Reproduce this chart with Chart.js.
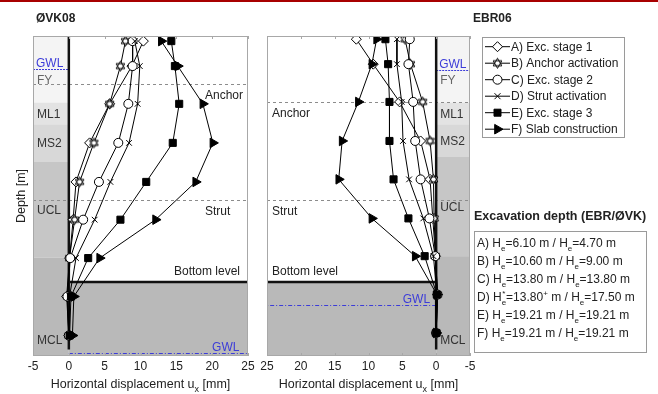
<!DOCTYPE html>
<html>
<head>
<meta charset="utf-8">
<script src="https://cdn.jsdelivr.net/npm/chart.js@4.4.0/dist/chart.umd.min.js"></script>
<style>
  body { margin: 0; background: #fff; }
  #wrap { position: relative; width: 658px; height: 394px; }
  #wrap canvas { position: absolute; left: 0; top: 0; }
</style>
</head>
<body>
<div id="wrap">
  <canvas id="vk" width="658" height="394"></canvas>
  <canvas id="ebr" width="658" height="394"></canvas>
</div>
<script>
// --- data ---
const stages = ['A) Exc. stage 1', 'B) Anchor activation', 'C) Exc. stage 2',
                'D) Strut activation', 'E) Exc. stage 3', 'F) Slab construction'];
const xTicks = [-5, 0, 5, 10, 15, 20, 25];

// ØVK08 (depth in m, displacement in mm)
const depthVK = [0.4, 2.35, 5.3, 8.35, 11.4, 14.35, 17.35, 20.35, 23.4];
const vkA = [10.4, 8.8, 5.7, 2.9, 1.0, 0.6, 0.1, -0.3, 0.0];
const vkB = [7.9, 7.2, 5.7, 3.5, 1.5, 0.8, 0.1, -0.2, 0.0];
const vkC = [8.9, 8.9, 8.3, 6.9, 4.2, 2.0, 0.2, -0.2, 0.0];
const vkD = [9.2, 9.9, 9.6, 8.4, 5.8, 3.6, 1.0, 0.1, 0.0];
const vkE = [14.3, 14.8, 15.4, 14.5, 10.8, 7.2, 2.7, 0.3, 0.1];
const vkF = [12.9, 15.2, 18.7, 20.1, 17.7, 12.1, 4.3, 0.7, 0.5];

// EBR06
const depthEBR = [0.25, 2.2, 5.15, 8.2, 11.2, 14.25, 17.2, 20.2, 23.2];
const ebrA = [11.8, 9.3, 5.4, 2.3, 0.9, 0.5, 0.1, -0.2, 0.0];
const ebrB = [4.6, 3.8, 2.0, 0.9, 0.4, 0.3, 0.1, -0.2, 0.0];
const ebrC = [3.9, 4.1, 3.4, 3.1, 2.3, 1.0, 0.15, -0.2, 0.0];
const ebrD = [5.8, 5.8, 5.1, 4.9, 4.0, 1.9, 0.4, -0.1, 0.0];
const ebrE = [7.5, 7.1, 6.9, 6.9, 6.3, 4.1, 1.7, -0.1, 0.0];
const ebrF = [8.8, 9.5, 11.5, 13.9, 14.4, 9.5, 3.1, -0.1, 0.0];

// soil layers (top depth of each layer, m)
const layerNames = ['FY', 'ML1', 'MS2', 'UCL', 'MCL'];
const layerTopVK = [0, 5.2, 6.9, 9.8, 17.3];
const layerTopEBR = [0, 5.2, 6.9, 9.45, 17.2];
const maxDepth = 25;

const anchorVK = 3.75, strutVK = 12.85, gwlVK = [2.6, 24.75];
const anchorEBR = 5.15, strutEBR = 12.8, gwlEBR = [2.65, 21.0];
const bottomDepth = 19.21;

const excLines = [
  [['A) H'], ['e', 'sub'], ['=6.10 m / H'], ['e', 'sub'], ['=4.70 m']],
  [['B) H'], ['e', 'sub'], ['=10.60 m / H'], ['e', 'sub'], ['=9.00 m']],
  [['C) H'], ['e', 'sub'], ['=13.80 m / H'], ['e', 'sub'], ['=13.80 m']],
  [['D) H'], ['e', 'both'], ['=13.80'], ['+', 'sup'], [' m / H'], ['e', 'sub'], ['=17.50 m']],
  [['E) H'], ['e', 'sub'], ['=19.21 m / H'], ['e', 'sub'], ['=19.21 m']],
  [['F) H'], ['e', 'sub'], ['=19.21 m / H'], ['e', 'sub'], ['=19.21 m']]
];

// --- styles ---
const FONT = "'Liberation Sans', Arial, Helvetica, sans-serif";
Chart.defaults.font.family = FONT;
Chart.defaults.font.size = 12;
Chart.defaults.color = '#222';
const layerFill = ['#f4f4f4', '#e3e3e3', '#d8d8d8', '#c6c6c6', '#b9b9b9'];
const gwlBlue = '#3c3cd8';

function hexagram(r) {
  const c = document.createElement('canvas');
  const s = Math.ceil(r * 2 + 3);
  c.width = c.height = s;
  const g = c.getContext('2d');
  const cx = s / 2, cy = s / 2;
  g.fillStyle = '#fff';
  g.strokeStyle = '#000';
  g.lineWidth = 1;
  const tri = a0 => {
    g.beginPath();
    for (let i = 0; i < 3; i++) {
      const a = a0 + i * 2 * Math.PI / 3;
      g.lineTo(cx + r * Math.cos(a), cy + r * Math.sin(a));
    }
    g.closePath();
  };
  [-Math.PI / 2, Math.PI / 2].forEach(a0 => { tri(a0); g.fill(); });
  [-Math.PI / 2, Math.PI / 2].forEach(a0 => { tri(a0); g.stroke(); });
  return c;
}
const hexImg = hexagram(5);

const marks = [
  { pointStyle: 'rectRot', pointRadius: 5, pointBackgroundColor: '#fff' },
  { pointStyle: hexImg, pointRadius: 5, pointBackgroundColor: '#fff' },
  { pointStyle: 'circle', pointRadius: 4.5, pointBackgroundColor: '#fff' },
  { pointStyle: 'crossRot', pointRadius: 4, pointBackgroundColor: '#000' },
  { pointStyle: 'rect', pointRadius: 5, pointBackgroundColor: '#000' },
  { pointStyle: 'triangle', pointRadius: 5.5, pointRotation: 90, pointBackgroundColor: '#000' }
];

function makeSets(depth, series) {
  return series.map((xs, i) => Object.assign({
    label: stages[i],
    data: xs.map((v, k) => ({ x: v, y: depth[k] })),
    order: series.length - 1 - i,   // later stages drawn on top
    showLine: true,
    borderColor: '#000',
    borderWidth: 1,
    pointBorderColor: '#000',
    pointBorderWidth: 1
  }, marks[i]));
}

function richText(ctx, parts, x, y, size) {
  // text with sub/superscripts, left aligned at x, baseline y
  const big = size + 'px ' + FONT, small = Math.round(size * 0.7) + 'px ' + FONT;
  ctx.textAlign = 'left';
  ctx.textBaseline = 'alphabetic';
  parts.forEach(([t, mode]) => {
    if (!mode) {
      ctx.font = big; ctx.fillText(t, x, y); x += ctx.measureText(t).width;
    } else {
      ctx.font = small;
      const w = ctx.measureText(t).width;
      if (mode === 'sub' || mode === 'both') ctx.fillText(t, x, y + size * 0.3);
      if (mode === 'sup') ctx.fillText(t, x, y - size * 0.45);
      if (mode === 'both') ctx.fillText('*', x + 0.5, y - size * 0.45);
      x += w;
    }
  });
  return x;
}
function richWidth(ctx, parts, size) {
  let w = 0;
  parts.forEach(([t, mode]) => {
    ctx.font = (mode ? Math.round(size * 0.7) : size) + 'px ' + FONT;
    w += ctx.measureText(t).width;
  });
  return w;
}
const axisTitle = [['Horizontal displacement u'], ['x', 'sub'], [' [mm]']];

function line(ctx, x1, y1, x2, y2) {
  ctx.beginPath(); ctx.moveTo(x1, y1); ctx.lineTo(x2, y2); ctx.stroke();
}

function soilPlugin(cfg) {
  return {
    id: 'soil_' + cfg.name,
    beforeDatasetsDraw(chart) {
      const { ctx, chartArea: a, scales: { x, y } } = chart;
      const w0 = x.getPixelForValue(0), s0 = x.getPixelForValue(-5), e0 = x.getPixelForValue(25);
      const sl = Math.min(w0, s0), sw = Math.abs(w0 - s0);
      ctx.save();
      // layer strip
      cfg.tops.forEach((t, i) => {
        const yt = y.getPixelForValue(t);
        const yb = y.getPixelForValue(i < cfg.tops.length - 1 ? cfg.tops[i + 1] : maxDepth);
        ctx.fillStyle = layerFill[i];
        ctx.fillRect(sl, yt, sw, yb - yt);
      });
      // soil below the excavation bottom
      const yB = y.getPixelForValue(bottomDepth);
      ctx.fillStyle = layerFill[4];
      ctx.fillRect(Math.min(w0, e0), yB, Math.abs(e0 - w0), a.bottom - yB);

      // layer labels
      ctx.font = '12px ' + FONT;
      ctx.textAlign = 'left';
      ctx.textBaseline = 'middle';
      cfg.tops.forEach((t, i) => {
        const bot = i < cfg.tops.length - 1 ? cfg.tops[i + 1] : maxDepth;
        let d = (t + bot) / 2;
        if (layerNames[i] === 'FY') d = bot - 1.75;
        if (layerNames[i] === 'MCL') d = maxDepth - 1.25;
        ctx.fillStyle = layerNames[i] === 'FY' ? '#666' : '#333';
        ctx.fillText(layerNames[i], sl + 4, y.getPixelForValue(d) + 1);
      });

      // anchor / strut levels
      ctx.strokeStyle = '#8c8c8c';
      ctx.lineWidth = 1;
      ctx.setLineDash([3, 3]);
      [cfg.anchor, cfg.strut].forEach(d => {
        const py = Math.round(y.getPixelForValue(d)) + 0.5;
        line(ctx, a.left, py, a.right, py);
      });

      // groundwater levels
      ctx.strokeStyle = gwlBlue;
      ctx.setLineDash([2, 1]);
      let py = Math.round(y.getPixelForValue(cfg.gwl[0])) + 0.5;
      line(ctx, sl, py, sl + sw, py);
      ctx.fillStyle = gwlBlue;
      ctx.textBaseline = 'alphabetic';
      ctx.fillText('GWL', sl + 3, py - 2.5);
      ctx.setLineDash([4, 2, 1, 2]);
      py = Math.round(y.getPixelForValue(cfg.gwl[1])) + 0.5;
      line(ctx, w0, py, e0, py);
      ctx.textAlign = 'right';
      ctx.fillText('GWL', x.getPixelForValue(cfg.gwlText), py - 3);
      ctx.setLineDash([]);

      // labels
      ctx.fillStyle = '#222';
      ctx.textBaseline = 'middle';
      ctx.textAlign = 'left';
      ctx.fillText('Anchor', cfg.textX, y.getPixelForValue(cfg.anchor) + 12);
      ctx.fillText('Strut', cfg.textX, y.getPixelForValue(cfg.strut) + 11.5);
      ctx.textAlign = cfg.bottomAlign;
      ctx.fillText('Bottom level', cfg.bottomX, yB - 10);

      // excavation bottom and wall
      ctx.strokeStyle = '#111';
      ctx.lineWidth = 2.5;
      line(ctx, w0, yB, e0, yB);
      line(ctx, w0, a.top, w0, y.getPixelForValue(24.5));
      ctx.restore();
    },
    afterDatasetsDraw(chart) {
      const { ctx, chartArea: a, scales: { x } } = chart;
      ctx.save();
      ctx.strokeStyle = '#a8a8a8';
      ctx.lineWidth = 1;
      ctx.strokeRect(a.left + 0.5, a.top + 0.5, a.right - a.left - 1, a.bottom - a.top - 1);
      x.ticks.forEach(t => {
        const px = Math.round(x.getPixelForValue(t.value)) + 0.5;
        line(ctx, px, a.top, px, a.top + 3);
        line(ctx, px, a.bottom, px, a.bottom - 3);
      });
      ctx.fillStyle = '#222';
      const w = richWidth(ctx, axisTitle, 12.5);
      richText(ctx, axisTitle, (a.left + a.right) / 2 - w / 2, 388, 12.5);
      ctx.font = 'bold 12px ' + FONT;
      ctx.textAlign = 'left';
      ctx.textBaseline = 'middle';
      ctx.fillText(cfg.title, cfg.titleX, 19);
      if (cfg.extra) cfg.extra(ctx);
      ctx.restore();
    }
  };
}

function drawLegendMark(ctx, i, x, y) {
  ctx.fillStyle = i >= 3 ? '#000' : '#fff';
  ctx.strokeStyle = '#000';
  ctx.lineWidth = 1;
  ctx.beginPath();
  if (i === 0) { ctx.moveTo(x, y - 5); ctx.lineTo(x + 5, y); ctx.lineTo(x, y + 5); ctx.lineTo(x - 5, y); ctx.closePath(); }
  if (i === 1) { ctx.drawImage(hexImg, x - hexImg.width / 2, y - hexImg.height / 2); return; }
  if (i === 2) { ctx.arc(x, y, 4.5, 0, Math.PI * 2); }
  if (i === 3) { ctx.moveTo(x - 3, y - 3); ctx.lineTo(x + 3, y + 3); ctx.moveTo(x + 3, y - 3); ctx.lineTo(x - 3, y + 3); ctx.stroke(); return; }
  if (i === 4) { ctx.rect(x - 3.5, y - 3.5, 7, 7); }
  if (i === 5) { ctx.moveTo(x + 5.5, y); ctx.lineTo(x - 2.8, y - 4.8); ctx.lineTo(x - 2.8, y + 4.8); ctx.closePath(); }
  ctx.fill();
  ctx.stroke();
}

function drawSide(ctx) {
  // legend
  ctx.fillStyle = '#fff';
  ctx.fillRect(483, 37, 142, 100);
  ctx.strokeStyle = '#9a9a9a';
  ctx.lineWidth = 1;
  ctx.strokeRect(482.5, 37.5, 142, 100);
  ctx.font = '12px ' + FONT;
  ctx.textAlign = 'left';
  ctx.textBaseline = 'middle';
  stages.forEach((s, i) => {
    const yy = 46.7 + i * 16.5;
    ctx.strokeStyle = '#000';
    line(ctx, 485, yy, 510, yy);
    drawLegendMark(ctx, i, 497.5, yy);
    ctx.fillStyle = '#222';
    ctx.fillText(s, 511, yy + 0.5);
  });
  // excavation depth box
  ctx.fillStyle = '#222';
  ctx.font = 'bold 12.5px ' + FONT;
  ctx.fillText('Excavation depth (EBR/\u00d8VK)', 474, 217);
  ctx.strokeStyle = '#9a9a9a';
  ctx.strokeRect(474.5, 231.5, 172, 121);
  excLines.forEach((parts, i) => {
    ctx.fillStyle = '#222';
    richText(ctx, parts, 477, 247 + i * 18, 12);
  });
}

function makeChart(id, sets, cfg, padding, reverse, showY) {
  return new Chart(document.getElementById(id), {
    type: 'scatter',
    data: { datasets: sets },
    options: {
      responsive: false,
      animation: false,
      events: [],
      layout: { padding },
      plugins: { legend: { display: false }, tooltip: { enabled: false } },
      scales: {
        x: {
          type: 'linear', min: xTicks[0], max: xTicks[xTicks.length - 1], reverse,
          afterBuildTicks: s => { s.ticks = xTicks.map(v => ({ value: v })); },
          afterFit: s => { s.height = 38; },
          grid: { display: false, drawTicks: false },
          border: { display: false },
          ticks: { padding: 3, maxRotation: 0, autoSkip: false, color: '#222', font: { size: 12 } }
        },
        y: {
          type: 'linear', min: 0, max: maxDepth, reverse: true,
          display: showY,
          afterFit: s => { s.width = showY ? 33 : 0; },
          grid: { display: false, drawTicks: false },
          border: { display: false },
          ticks: { display: false },
          title: { display: true, text: 'Depth [m]', color: '#222', font: { size: 12.5 }, padding: { top: 14, bottom: 0 } }
        }
      }
    },
    plugins: [soilPlugin(cfg)]
  });
}

makeChart('vk', makeSets(depthVK, [vkA, vkB, vkC, vkD, vkE, vkF]), {
  name: 'vk', title: '\u00d8VK08', titleX: 36, tops: layerTopVK,
  anchor: anchorVK, strut: strutVK, gwl: gwlVK, gwlText: 23.8,
  textX: 205, bottomAlign: 'right', bottomX: 240,
  extra: ctx => { ctx.fillStyle = '#a80000'; ctx.fillRect(0, 0, 658, 2); }
}, { top: 36, right: 410, bottom: 0, left: 0 }, false, true);

makeChart('ebr', makeSets(depthEBR, [ebrA, ebrB, ebrC, ebrD, ebrE, ebrF]), {
  name: 'ebr', title: 'EBR06', titleX: 473, tops: layerTopEBR,
  anchor: anchorEBR, strut: strutEBR, gwl: gwlEBR, gwlText: 0.9,
  textX: 272, bottomAlign: 'left', bottomX: 272,
  extra: drawSide
}, { top: 36, right: 188, bottom: 0, left: 267 }, true, false);
</script>
</body>
</html>
